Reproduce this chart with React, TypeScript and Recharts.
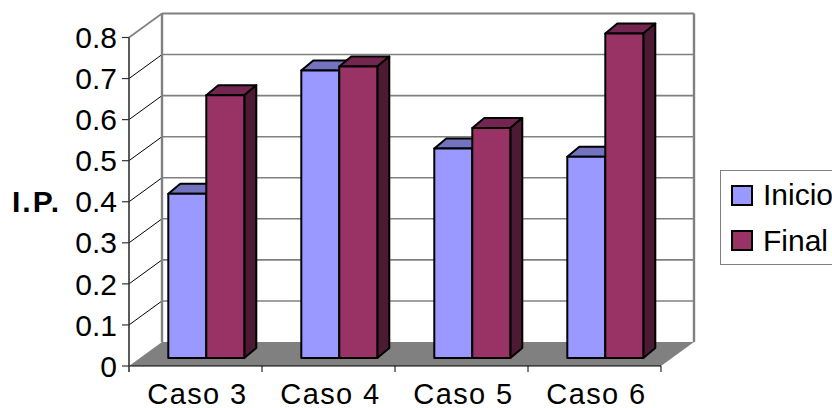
import { BarChart, Bar, XAxis, YAxis, CartesianGrid, Legend } from 'recharts'

const CATEGORIES = ['Caso 3', 'Caso 4', 'Caso 5', 'Caso 6']
const INICIO = [0.4, 0.7, 0.51, 0.49]
const FINAL = [0.64, 0.71, 0.56, 0.79]
const Y_TICKS = [0, 0.1, 0.2, 0.3, 0.4, 0.5, 0.6, 0.7, 0.8]

const chartData = CATEGORIES.map((name, i) => ({ name, Inicio: INICIO[i], Final: FINAL[i] }))

const WIDTH = 832
const HEIGHT = 408
const FONT = '"Liberation Sans", Arial, sans-serif'
const LEFT = 129
const RIGHT = 661
const TOP = 37.5
const BOTTOM = 366
const BAND = (RIGHT - LEFT) / CATEGORIES.length
// how far the back wall sits from the front of the box
const WALL_DX = 33
const WALL_DY = 24
const WALL = '#808080'

const SHADES: Record<string, { top: string; side: string }> = {
  '#9999FF': { top: '#7373BF', side: '#4D4D80' },
  '#993366': { top: '#732650', side: '#4D1A33' },
}

function Box3D(props: any) {
  const { x, y, width, height, fill } = props
  const dx = 12
  const dy = 10
  const fx = x + 10.7
  const fy = y - 8
  const shade = SHADES[fill]
  const line = { stroke: '#000', strokeWidth: 2, strokeLinejoin: 'round' as const }
  return (
    <g>
      <polygon
        points={`${fx},${fy} ${fx + dx},${fy - dy} ${fx + width + dx},${fy - dy} ${fx + width},${fy}`}
        fill={shade.top}
        {...line}
      />
      <polygon
        points={`${fx + width},${fy} ${fx + width + dx},${fy - dy} ${fx + width + dx},${fy + height - dy} ${fx + width},${fy + height}`}
        fill={shade.side}
        {...line}
      />
      <rect x={fx} y={fy} width={width} height={height} fill={fill} {...line} />
    </g>
  )
}

// one grid value: diagonal on the left wall, then the line along the back wall
function GridLine(props: any) {
  const { x1, x2, y1 } = props
  const backY = y1 - WALL_DY
  const isFloor = Math.abs(y1 - BOTTOM) < 1
  const isTop = Math.abs(y1 - TOP) < 1
  if (isFloor) {
    return (
      <polygon
        points={`${x1},${y1} ${x2},${y1} ${x2 + WALL_DX},${backY} ${x1 + WALL_DX},${backY}`}
        fill={WALL}
      />
    )
  }
  return (
    <g>
      {isTop && (
        <>
          <line x1={x1 + WALL_DX} y1={backY} x2={x1 + WALL_DX} y2={BOTTOM - WALL_DY} stroke={WALL} strokeWidth={2.4} />
          <line x1={x2 + WALL_DX} y1={backY} x2={x2 + WALL_DX} y2={BOTTOM - WALL_DY} stroke={WALL} strokeWidth={2.4} />
        </>
      )}
      <line
        x1={x1}
        y1={y1}
        x2={x1 + WALL_DX}
        y2={backY}
        stroke={isTop ? WALL : '#000'}
        strokeWidth={isTop ? 1.6 : 1}
      />
      <line
        x1={x1 + WALL_DX}
        y1={backY}
        x2={x2 + WALL_DX}
        y2={backY}
        stroke={WALL}
        strokeWidth={isTop ? 2 : 1.6}
      />
    </g>
  )
}

function CategoryTick(props: any) {
  const { x, y, payload, index } = props
  return (
    <g>
      {index === 0 && <line x1={x - BAND / 2} y1={BOTTOM} x2={x - BAND / 2} y2={BOTTOM + 6} stroke="#333" strokeWidth={1.6} />}
      <line x1={x + BAND / 2} y1={BOTTOM} x2={x + BAND / 2} y2={BOTTOM + 6} stroke="#000" strokeWidth={1} />
      <text x={x + 2} y={y + 30} textAnchor="middle" fontSize={29} letterSpacing={1.4} fill="#000" fontFamily={FONT}>
        {payload.value}
      </text>
    </g>
  )
}

function LegendBox({ payload }: any) {
  return (
    <div
      style={{
        border: '1.4px solid #808080',
        boxSizing: 'border-box',
        width: 140,
        height: 95,
        background: '#fff',
        paddingTop: 2,
        paddingLeft: 10,
        fontFamily: FONT,
        fontSize: 30,
        color: '#000',
      }}
    >
      {(payload || []).map((p: any) => (
        <div key={p.value} style={{ display: 'flex', alignItems: 'center', height: 45.5 }}>
          <span
            style={{
              display: 'inline-block',
              width: 22,
              height: 21,
              boxSizing: 'border-box',
              background: p.color,
              border: '2px solid #000',
              marginRight: 10,
            }}
          />
          {p.value}
        </div>
      ))}
    </div>
  )
}

export default function App() {
  return (
    <div style={{ position: 'absolute', left: 0, top: 0, width: WIDTH, height: HEIGHT, overflow: 'hidden', background: '#fff' }}>
      <BarChart
        width={WIDTH}
        height={HEIGHT}
        data={chartData}
        margin={{ top: TOP, right: WIDTH - RIGHT, bottom: 0, left: 0 }}
        barCategoryGap="21.5%"
        barGap={0}
      >
        <CartesianGrid vertical={false} horizontal={(p: any) => <GridLine key={p.key ?? p.index} {...p} />} />
        <XAxis
          dataKey="name"
          height={HEIGHT - BOTTOM}
          tickLine={false}
          axisLine={{ stroke: '#000', strokeWidth: 1.2 }}
          tick={<CategoryTick />}
          interval={0}
        />
        <YAxis
          width={LEFT}
          domain={[0, 0.8]}
          ticks={Y_TICKS}
          interval={0}
          axisLine={{ stroke: '#333', strokeWidth: 1.6 }}
          tickLine={{ stroke: '#333', strokeWidth: 1.2 }}
          tickSize={7}
          tickMargin={5}
          tick={{ fontSize: 30, fill: '#000', fontFamily: FONT }}
          label={{
            value: 'I.P.',
            position: 'insideLeft',
            offset: 12,
            fontSize: 30,
            fontWeight: 'bold',
            fill: '#000',
            fontFamily: FONT,
            letterSpacing: 2,
          }}
        />
        <Legend
          layout="horizontal"
          verticalAlign="middle"
          align="center"
          itemSorter={null}
          content={<LegendBox />}
          wrapperStyle={{ left: 720, top: 169.5, width: 140, height: 95, margin: 0 }}
        />
        <Bar dataKey="Inicio" fill="#9999FF" shape={<Box3D />} isAnimationActive={false} />
        <Bar dataKey="Final" fill="#993366" shape={<Box3D />} isAnimationActive={false} />
      </BarChart>
    </div>
  )
}
